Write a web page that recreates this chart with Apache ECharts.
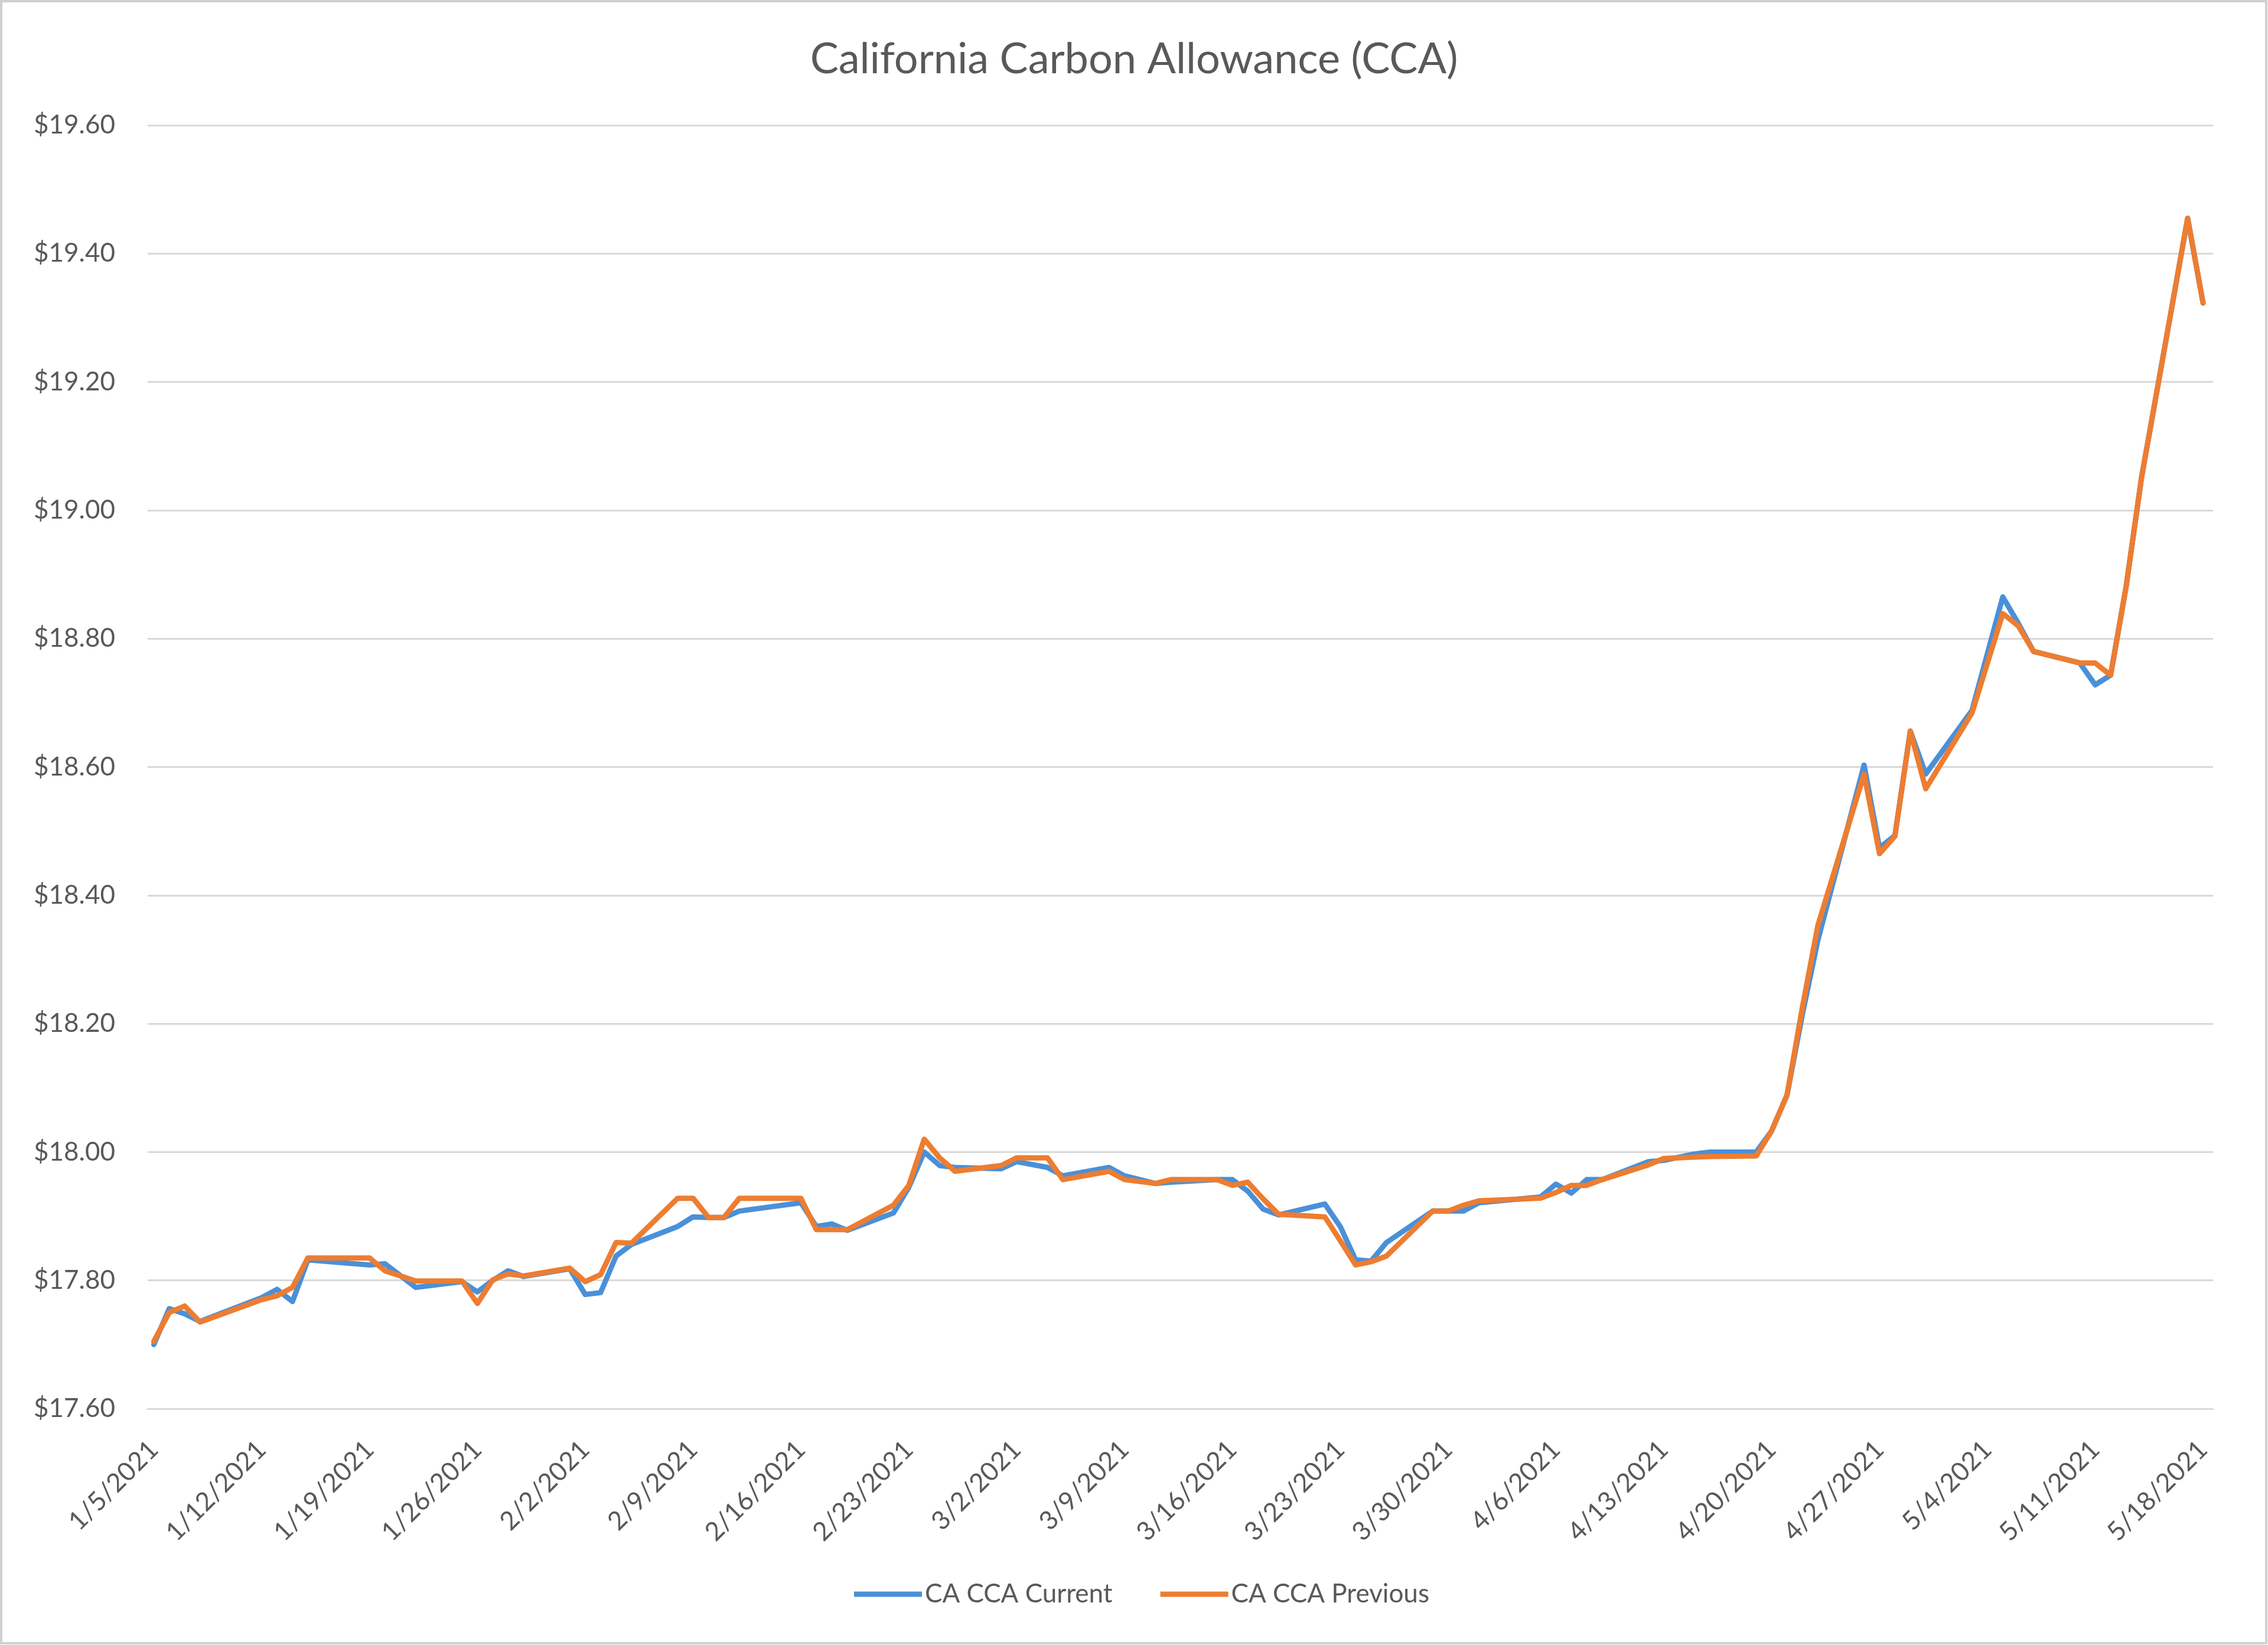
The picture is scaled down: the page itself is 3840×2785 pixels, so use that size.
<!DOCTYPE html>
<html>
<head>
<meta charset="utf-8">
<script src="https://cdn.jsdelivr.net/npm/echarts@6/dist/echarts.min.js"></script>
<style>
  html, body { margin: 0; padding: 0; background: #ffffff; }
  #chart { width: 3840px; height: 2785px; }
</style>
</head>
<body>
<div id="chart"></div>
<script>
// ---- Data ----
const dates = [
  '1/5/2021','1/6/2021','1/7/2021','1/8/2021','1/12/2021','1/13/2021','1/14/2021','1/15/2021',
  '1/19/2021','1/20/2021','1/22/2021','1/25/2021','1/26/2021','1/27/2021','1/28/2021','1/29/2021',
  '2/1/2021','2/2/2021','2/3/2021','2/4/2021','2/5/2021','2/8/2021','2/9/2021','2/10/2021',
  '2/11/2021','2/12/2021','2/16/2021','2/17/2021','2/18/2021','2/19/2021','2/22/2021','2/23/2021',
  '2/24/2021','2/25/2021','2/26/2021','3/1/2021','3/2/2021','3/4/2021','3/5/2021','3/8/2021',
  '3/9/2021','3/11/2021','3/12/2021','3/15/2021','3/16/2021','3/17/2021','3/18/2021','3/19/2021',
  '3/22/2021','3/23/2021','3/24/2021','3/25/2021','3/26/2021','3/29/2021','3/30/2021','3/31/2021',
  '4/1/2021','4/5/2021','4/6/2021','4/7/2021','4/8/2021','4/9/2021','4/12/2021','4/13/2021',
  '4/15/2021','4/16/2021','4/19/2021','4/20/2021','4/21/2021','4/22/2021','4/23/2021','4/26/2021',
  '4/27/2021','4/28/2021','4/29/2021','4/30/2021','5/3/2021','5/5/2021','5/6/2021','5/7/2021',
  '5/10/2021','5/11/2021','5/12/2021','5/13/2021','5/14/2021','5/17/2021','5/18/2021'
];
const current = [
  17.700,17.756,17.748,17.736,17.773,17.786,17.767,17.832,
  17.824,17.826,17.789,17.798,17.782,17.800,17.815,17.806,
  17.818,17.778,17.781,17.838,17.856,17.884,17.899,17.898,
  17.898,17.908,17.921,17.884,17.888,17.878,17.905,17.945,
  18.000,17.979,17.976,17.974,17.985,17.976,17.963,17.976,
  17.963,17.951,17.953,17.957,17.957,17.939,17.911,17.902,
  17.919,17.884,17.832,17.830,17.859,17.908,17.908,17.908,
  17.921,17.930,17.950,17.936,17.957,17.957,17.985,17.987,
  17.997,18.000,18.000,18.033,18.089,18.215,18.330,18.603,
  18.474,18.493,18.656,18.589,18.688,18.865,18.824,18.780,
  18.762,18.728,18.743,18.880,19.050,19.455,19.323
];
const previous = [
  17.705,17.750,17.760,17.735,17.770,17.776,17.789,17.835,
  17.835,17.815,17.799,17.799,17.764,17.801,17.810,17.807,
  17.819,17.798,17.809,17.859,17.858,17.928,17.928,17.898,
  17.898,17.928,17.928,17.879,17.879,17.879,17.917,17.948,
  18.020,17.991,17.970,17.979,17.991,17.991,17.957,17.970,
  17.957,17.951,17.957,17.957,17.948,17.953,17.927,17.903,
  17.899,17.862,17.824,17.829,17.838,17.908,17.908,17.917,
  17.924,17.928,17.937,17.948,17.948,17.957,17.980,17.990,
  17.992,17.993,17.994,18.033,18.089,18.226,18.353,18.589,
  18.465,18.492,18.656,18.566,18.684,18.839,18.820,18.780,
  18.762,18.762,18.743,18.880,19.050,19.455,19.323
];
const tickLabels = [
  '1/5/2021','1/12/2021','1/19/2021','1/26/2021','2/2/2021','2/9/2021','2/16/2021',
  '2/23/2021','3/2/2021','3/9/2021','3/16/2021','3/23/2021','3/30/2021','4/6/2021',
  '4/13/2021','4/20/2021','4/27/2021','5/4/2021','5/11/2021','5/18/2021'
];
const seriesNames = ['CA CCA Current', 'CA CCA Previous'];
const chartTitle = 'California Carbon Allowance (CCA)';

// ---- helpers ----
function parseMDY(s) {
  const p = s.split('/').map(Number);
  return Date.UTC(p[2], p[0] - 1, p[1]);
}
const baseDate = parseMDY(dates[0]);
function dayIndex(s) { return Math.round((parseMDY(s) - baseDate) / 86400000); }

const labelByDay = {};
tickLabels.forEach(t => { labelByDay[dayIndex(t)] = t; });
const tickDays = tickLabels.map(dayIndex);

const currentData = dates.map((d, i) => [dayIndex(d), current[i]]);
const previousData = dates.map((d, i) => [dayIndex(d), previous[i]]);

const FONT = 'Lato, "Open Sans", "Liberation Sans", sans-serif';
const TXT = '#595959';
const GRID = '#d9d9d9';

const chart = echarts.init(document.getElementById('chart'), null, { renderer: 'canvas' });
chart.setOption({
  backgroundColor: '#ffffff',
  animation: false,
  title: {
    text: chartTitle,
    left: 'center',
    top: 60,
    textStyle: { fontFamily: FONT, fontSize: 72, fontWeight: 'normal', color: TXT }
  },
  legend: {
    data: seriesNames,
    left: 1441,
    top: 2672,
    icon: 'rect',
    itemWidth: 115,
    itemHeight: 9,
    itemGap: 81,
    textStyle: { fontFamily: FONT, fontSize: 44, color: TXT }
  },
  grid: { left: 250, right: 93, top: 212, bottom: 400, containLabel: false },
  xAxis: {
    type: 'value',
    min: -0.40,
    max: 133.65,
    axisLine: { show: true, lineStyle: { color: GRID, width: 3 } },
    axisTick: { show: false, customValues: tickDays },
    splitLine: { show: false },
    axisLabel: {
      customValues: tickDays,
      rotate: 45,
      margin: 62,
      fontFamily: FONT,
      fontSize: 44,
      color: TXT,
      formatter: v => labelByDay[Math.round(v)] || ''
    }
  },
  yAxis: {
    type: 'value',
    min: 17.6,
    max: 19.6,
    interval: 0.2,
    axisLine: { show: false },
    axisTick: { show: false },
    splitLine: { show: true, lineStyle: { color: GRID, width: 3 } },
    axisLabel: {
      margin: 55,
      fontFamily: FONT,
      fontSize: 44,
      color: TXT,
      formatter: v => '$' + v.toFixed(2)
    }
  },
  series: [
    {
      name: seriesNames[0],
      type: 'line',
      data: currentData,
      symbol: 'none',
      color: '#4a90d9',
      lineStyle: { width: 9, color: '#4a90d9', cap: 'round', join: 'round' }
    },
    {
      name: seriesNames[1],
      type: 'line',
      data: previousData,
      symbol: 'none',
      color: '#ed7d31',
      lineStyle: { width: 9, color: '#ed7d31', cap: 'round', join: 'round' }
    }
  ],
  graphic: [{
    type: 'rect',
    silent: true,
    shape: { x: 2, y: 2, width: 3835, height: 2780 },
    style: { fill: 'none', stroke: '#d0d0d0', lineWidth: 4 }
  }]
});
</script>
</body>
</html>
